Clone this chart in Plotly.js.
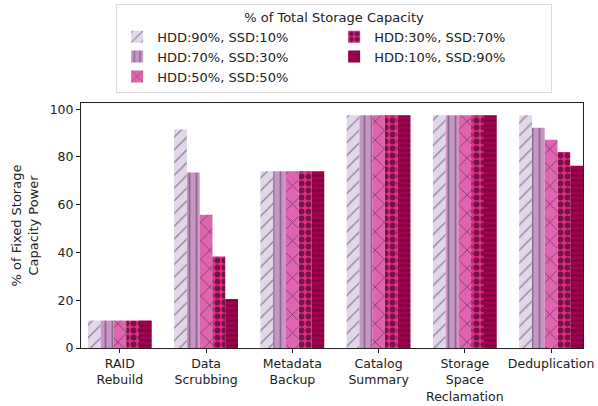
<!DOCTYPE html>
<html>
<head>
<meta charset="utf-8">
<script src="https://cdn.plot.ly/plotly-3.0.1.min.js"></script>
<style>html,body{margin:0;padding:0;background:#fff;}#chart{width:598px;height:406px;}</style>
</head>
<body>
<div id="chart"></div>
<script>
const categories = ["RAID<br>Rebuild", "Data<br>Scrubbing", "Metadata<br>Backup", "Catalog<br>Summary", "Storage<br>Space<br>Reclamation", "Deduplication"];
const seriesNames = ["HDD:90%, SSD:10%", "HDD:70%, SSD:30%", "HDD:50%, SSD:50%", "HDD:30%, SSD:70%", "HDD:10%, SSD:90%"];
const hdd90 = [11.5, 91.5, 74, 97.5, 97.5, 97.5];
const hdd70 = [11.5, 73.5, 74, 97.5, 97.5, 92.2];
const hdd50 = [11.5, 55.8, 74, 97.5, 97.5, 87.2];
const hdd30 = [11.5, 38.3, 74, 97.5, 97.5, 82.1];
const hdd10 = [11.5, 20.5, 74, 97.5, 97.5, 76.3];
const seriesValues = [hdd90, hdd70, hdd50, hdd30, hdd10];

const colors = ["#e2d6ea", "#c994c7", "#df65b0", "#e7298a", "#a3004f"];
const shapes = ["/", "|", "x", ".", "-"];
const fg = ["#333", "#444", "#111", "#000", "#4a0020"];
const psize = [9, 7, 13, 7, 5];
const psol = [0.15, 0.25, 0.12, 0.55, 0.35];
const ranks = [1, 3, 5, 2, 4];

const traces = seriesNames.map((name, i) => ({
  type: "bar",
  name: name,
  x: categories,
  y: seriesValues[i],
  legendrank: ranks[i],
  marker: {
    color: colors[i],
    line: {width: 0},
    pattern: {shape: shapes[i], fillmode: "overlay", bgcolor: colors[i], fgcolor: fg[i], size: psize[i], solidity: psol[i]}
  },
  hoverinfo: "skip"
}));

const layout = {
  width: 598, height: 406,
  margin: {l: 81, r: 15, t: 103, b: 58, autoexpand: false},
  paper_bgcolor: "#fff", plot_bgcolor: "#fff",
  font: {family: "DejaVu Sans", size: 13, color: "#222"},
  barmode: "group", bargap: 0.26, bargroupgap: 0,
  showlegend: true,
  legend: {
    title: {text: "% of Total Storage Capacity", side: "top center", font: {size: 13}},
    orientation: "h", x: 0.07, xanchor: "left", y: 1.405, yanchor: "top",
    entrywidth: 172, traceorder: "normal",
    bgcolor: "#fff", bordercolor: "#ddd", borderwidth: 1,
    font: {size: 13}, itemwidth: 30, tracegroupgap: 0
  },
  xaxis: {
    type: "category", range: [-0.45, 5.37],
    showline: true, linecolor: "#222", linewidth: 1, mirror: true,
    ticks: "outside", ticklen: 4, tickcolor: "#222",
    tickfont: {size: 12.5}
  },
  yaxis: {
    range: [0, 102.6], tickvals: [0, 20, 40, 60, 80, 100],
    showgrid: false, zeroline: false,
    showline: true, linecolor: "#222", linewidth: 1, mirror: true,
    ticks: "outside", ticklen: 4, tickcolor: "#222",
    tickfont: {size: 12.5},
    title: {text: "% of Fixed Storage<br>Capacity Power", font: {size: 13}, standoff: 8}
  }
};

Plotly.newPlot("chart", traces, layout, {staticPlot: true, displayModeBar: false});
</script>
</body>
</html>
